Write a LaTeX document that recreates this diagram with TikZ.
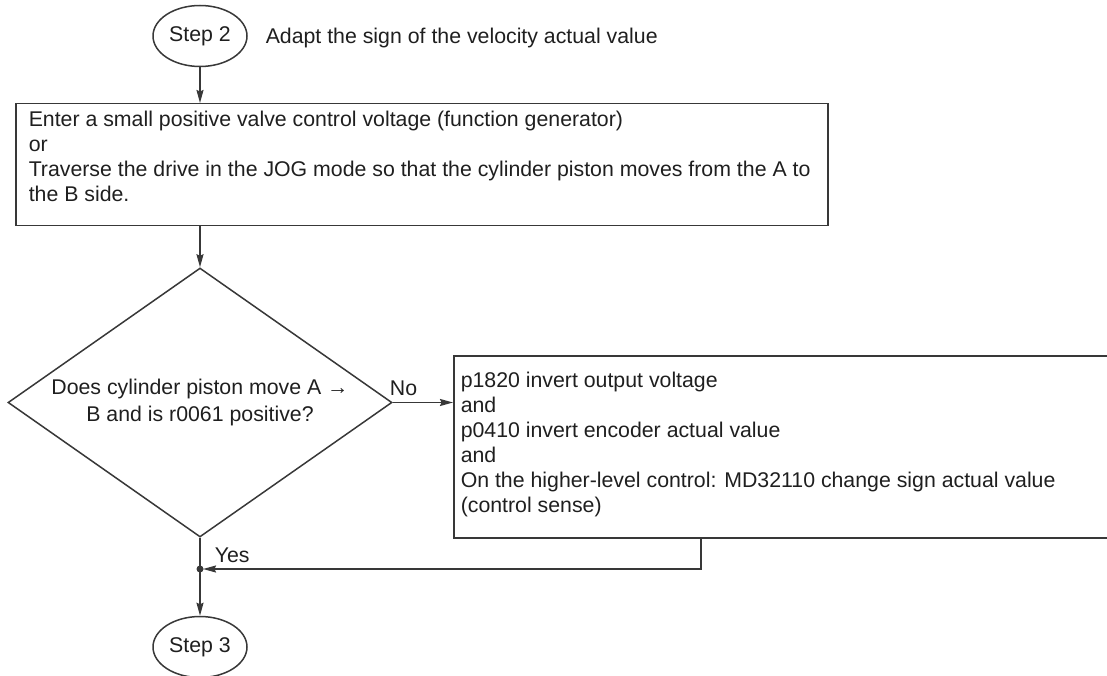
\documentclass[tikz,border=0pt]{standalone}
\usepackage{fontspec}
\setmainfont{Liberation Sans}
\usetikzlibrary{arrows.meta,shapes.geometric,positioning}

\definecolor{flowline}{gray}{0.22}
\definecolor{flowtext}{gray}{0.12}

\tikzset{
  stepoval/.style={draw=flowline, ellipse, minimum width=94pt, minimum height=61pt, inner sep=0pt, text=flowtext},
  actionbox/.style={draw=flowline, rectangle, inner sep=0pt, anchor=north west},
  boxtext/.style={text=flowtext, align=left, inner sep=0pt, anchor=base west},
  query/.style={draw=flowline, diamond, aspect=1.43, minimum width=384pt, minimum height=269pt,
    inner sep=0pt, align=center, text=flowtext, font=\fontsize{21.3}{27}\selectfont},
  flow/.style={draw=flowline, -{Stealth[length=13pt,width=7pt,inset=1.5pt]}},
  tag/.style={text=flowtext, inner sep=0pt},
}

\begin{document}
\begin{tikzpicture}[x=1pt, y=-1pt, line width=1.5pt, every node/.style={font=\fontsize{21.3}{25}\selectfont}]
  \useasboundingbox (0,0) rectangle (1107,676);
  \clip (0,0) rectangle (1107,676);

  % Step 2 and what it is about
  \node[stepoval] (step2) at (200,36) {Step 2};
  \node[tag, anchor=base west] (title) at (265,43.5) {Adapt the sign of the velocity actual value};

  % Move the piston from A to B (base = last line)
  \node[actionbox, minimum width=812pt, minimum height=122pt] (traverse) at (15,103) {};
  \node[boxtext] (traversetext) at (28,201.5)
    {Enter a small positive valve control voltage (function generator)\\or\\Traverse the drive in the JOG mode so that the cylinder piston moves from the A to\\the B side.};

  % The check
  \node[query] (check) at (200,402.5) {Does cylinder piston move A →\\B and is r0061 positive?};

  % Inverting the signs
  \node[actionbox, minimum width=680pt, minimum height=182pt] (invert) at (453,355) {};
  \node[boxtext] (inverttext) at (460,512.5)
    {p1820 invert output voltage\\and\\p0410 invert encoder actual value\\and\\On the higher-level control: MD32110 change sign actual value\\(control sense)};

  % Step 3
  \node[stepoval] (step3) at (200,647) {Step 3};
  \coordinate (join) at (200,569);
  \coordinate (back) at (701,537);

  % Connectors
  \draw[flow] (step2.south) -- (step2.south |- traverse.north);
  \draw[flow] (check.north |- traverse.south) -- (check.north);
  \draw[flow] (check.east) -- node[tag, pos=0.18, above=6pt] (no) {No} (invert.west |- check.east);
  \draw[draw=flowline] (check.south) -- node[tag, pos=0.56, right=14pt] (yes) {Yes} (join);
  \fill[flowline] (join) circle (3.5pt);
  \draw[flow] (join) -- (step3.north);
  \draw[flow, shorten >=3pt] (back) |- (join);
\end{tikzpicture}
\end{document}
